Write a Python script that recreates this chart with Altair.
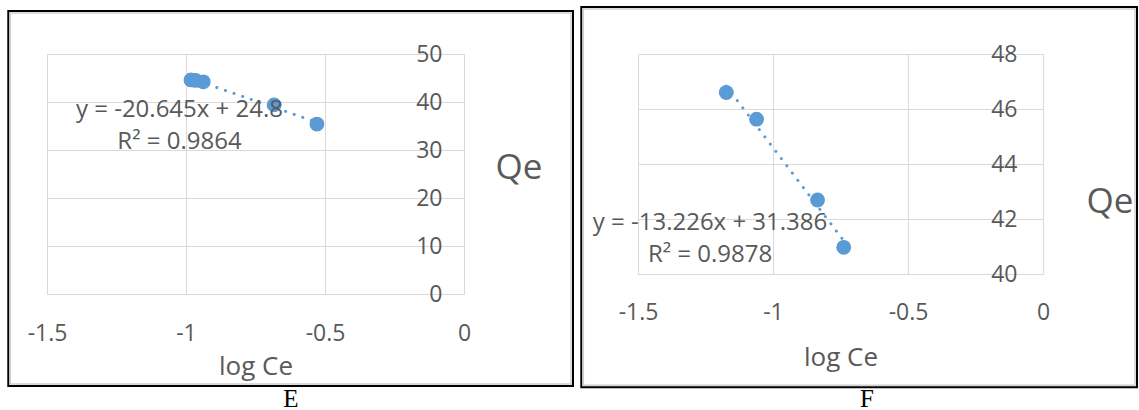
import altair as alt
import pandas as pd

# ---------------- data ----------------
# Panel E
e_logce = [-0.982, -0.965, -0.938, -0.683, -0.529]
e_qe = [44.6, 44.5, 44.2, 39.4, 35.4]
# Panel F
f_logce = [-1.173, -1.061, -0.835, -0.738]
f_qe = [46.6, 45.63, 42.69, 40.97]

x_ticks = [-1.5, -1, -0.5, 0]
e_y_ticks = [0, 10, 20, 30, 40, 50]
f_y_ticks = [40, 42, 44, 46, 48]

e_eq = ["y = -20.645x + 24.8", "R² = 0.9864"]
f_eq = ["y = -13.226x + 31.386", "R² = 0.9878"]

# ---------------- styling ----------------
FONT = "Open Sans"
TXT = "#595959"
GRID = "#d9d9d9"
BLUE = "#5B9BD5"


def panel(xs, ys, ydom, yticks, eq, eq_x, eq_y, W, H, ylab_pad, qe_x, qe_y,
          xlab_pad, xtitle_y, frame, inner, letter, letter_x, letter_y):
    df = pd.DataFrame({"x": xs, "y": ys})
    xsc = alt.Scale(domain=[-1.5, 0], nice=False, zero=False)
    ysc = alt.Scale(domain=ydom, nice=False, zero=False)
    xax = alt.Axis(values=x_ticks, grid=True, gridColor=GRID, gridWidth=1,
                   domain=False, ticks=False, labelPadding=xlab_pad,
                   labelBaseline="middle", labelFontSize=23, labelColor=TXT,
                   labelFont=FONT, labelFlush=False, labelOverlap=False,
                   labelExpr="'' + datum.value",
                   title="log Ce", titleFont=FONT, titleFontSize=26,
                   titleFontWeight="normal", titleColor=TXT, titleY=xtitle_y,
                   titleBaseline="middle")
    yax = alt.Axis(orient="right", values=yticks, grid=True, gridColor=GRID,
                   gridWidth=1, domain=False, ticks=False, labelAlign="right",
                   labelPadding=ylab_pad, labelBaseline="middle",
                   labelFontSize=23, labelColor=TXT, labelFont=FONT,
                   labelFlush=False, labelOverlap=False,
                   title="Qe", titleFont=FONT, titleAngle=0, titleAlign="left",
                   titleBaseline="middle", titleX=qe_x, titleY=qe_y,
                   titleFontSize=35, titleFontWeight="normal", titleColor=TXT)

    one = pd.DataFrame({"k": [0]})
    fr = alt.Chart(one).mark_rect(filled=False, stroke="black", strokeWidth=2,
                                  clip=False).encode(
        x=alt.value(frame[0]), x2=alt.value(frame[1]),
        y=alt.value(frame[2]), y2=alt.value(frame[3]))
    inr = alt.Chart(one).mark_rect(filled=False, stroke="#cfcfcf",
                                   strokeWidth=1.5, clip=False).encode(
        x=alt.value(inner[0]), x2=alt.value(inner[1]),
        y=alt.value(inner[2]), y2=alt.value(inner[3]))

    pts = alt.Chart(df).mark_circle(size=220, color=BLUE, opacity=1).encode(
        x=alt.X("x:Q", scale=xsc, axis=xax),
        y=alt.Y("y:Q", scale=ysc, axis=yax))
    trend = alt.Chart(df).transform_regression("x", "y").mark_line(
        color=BLUE, strokeWidth=3, strokeDash=[0.1, 9], strokeCap="round").encode(
        x=alt.X("x:Q", scale=xsc), y=alt.Y("y:Q", scale=ysc))
    eqdf = pd.DataFrame({"x": [eq_x, eq_x], "y": eq_y, "t": eq})
    eqt = alt.Chart(eqdf).mark_text(font=FONT, fontSize=24, color=TXT).encode(
        x=alt.X("x:Q", scale=xsc), y=alt.Y("y:Q", scale=ysc), text="t:N")
    let = alt.Chart(one).mark_text(font="Liberation Serif", fontSize=25,
                                   color="black", baseline="alphabetic",
                                   align="center", clip=False).encode(
        x=alt.value(letter_x), y=alt.value(letter_y), text=alt.value(letter))
    return alt.layer(fr, inr, pts, trend, eqt, let).properties(width=W, height=H)


left = panel(e_logce, e_qe, [0, 50], e_y_ticks, e_eq, -1.0234, [38.33, 31.67],
             417, 240, -22, 31, 113, 39, 72,
             (-38.7, 526, -43, 332), (-36.7, 524, -41, 330), "E", 244, 353)
right = panel(f_logce, f_qe, [40, 48], f_y_ticks, f_eq, -1.2333, [41.855, 40.69],
              405, 220, -26, 43, 147, 38, 83,
              (-56.7, 499, -47, 333.3), (-54.7, 497, -45, 331.3), "F", 229, 353)

chart = alt.hconcat(left, right, spacing=174, bounds="flush").properties(
    padding={"left": 7, "top": 6, "right": 0, "bottom": 0},
    background="white",
).configure_view(stroke=None)

chart.save("out.html", embed_options={"renderer": "svg", "actions": False})
